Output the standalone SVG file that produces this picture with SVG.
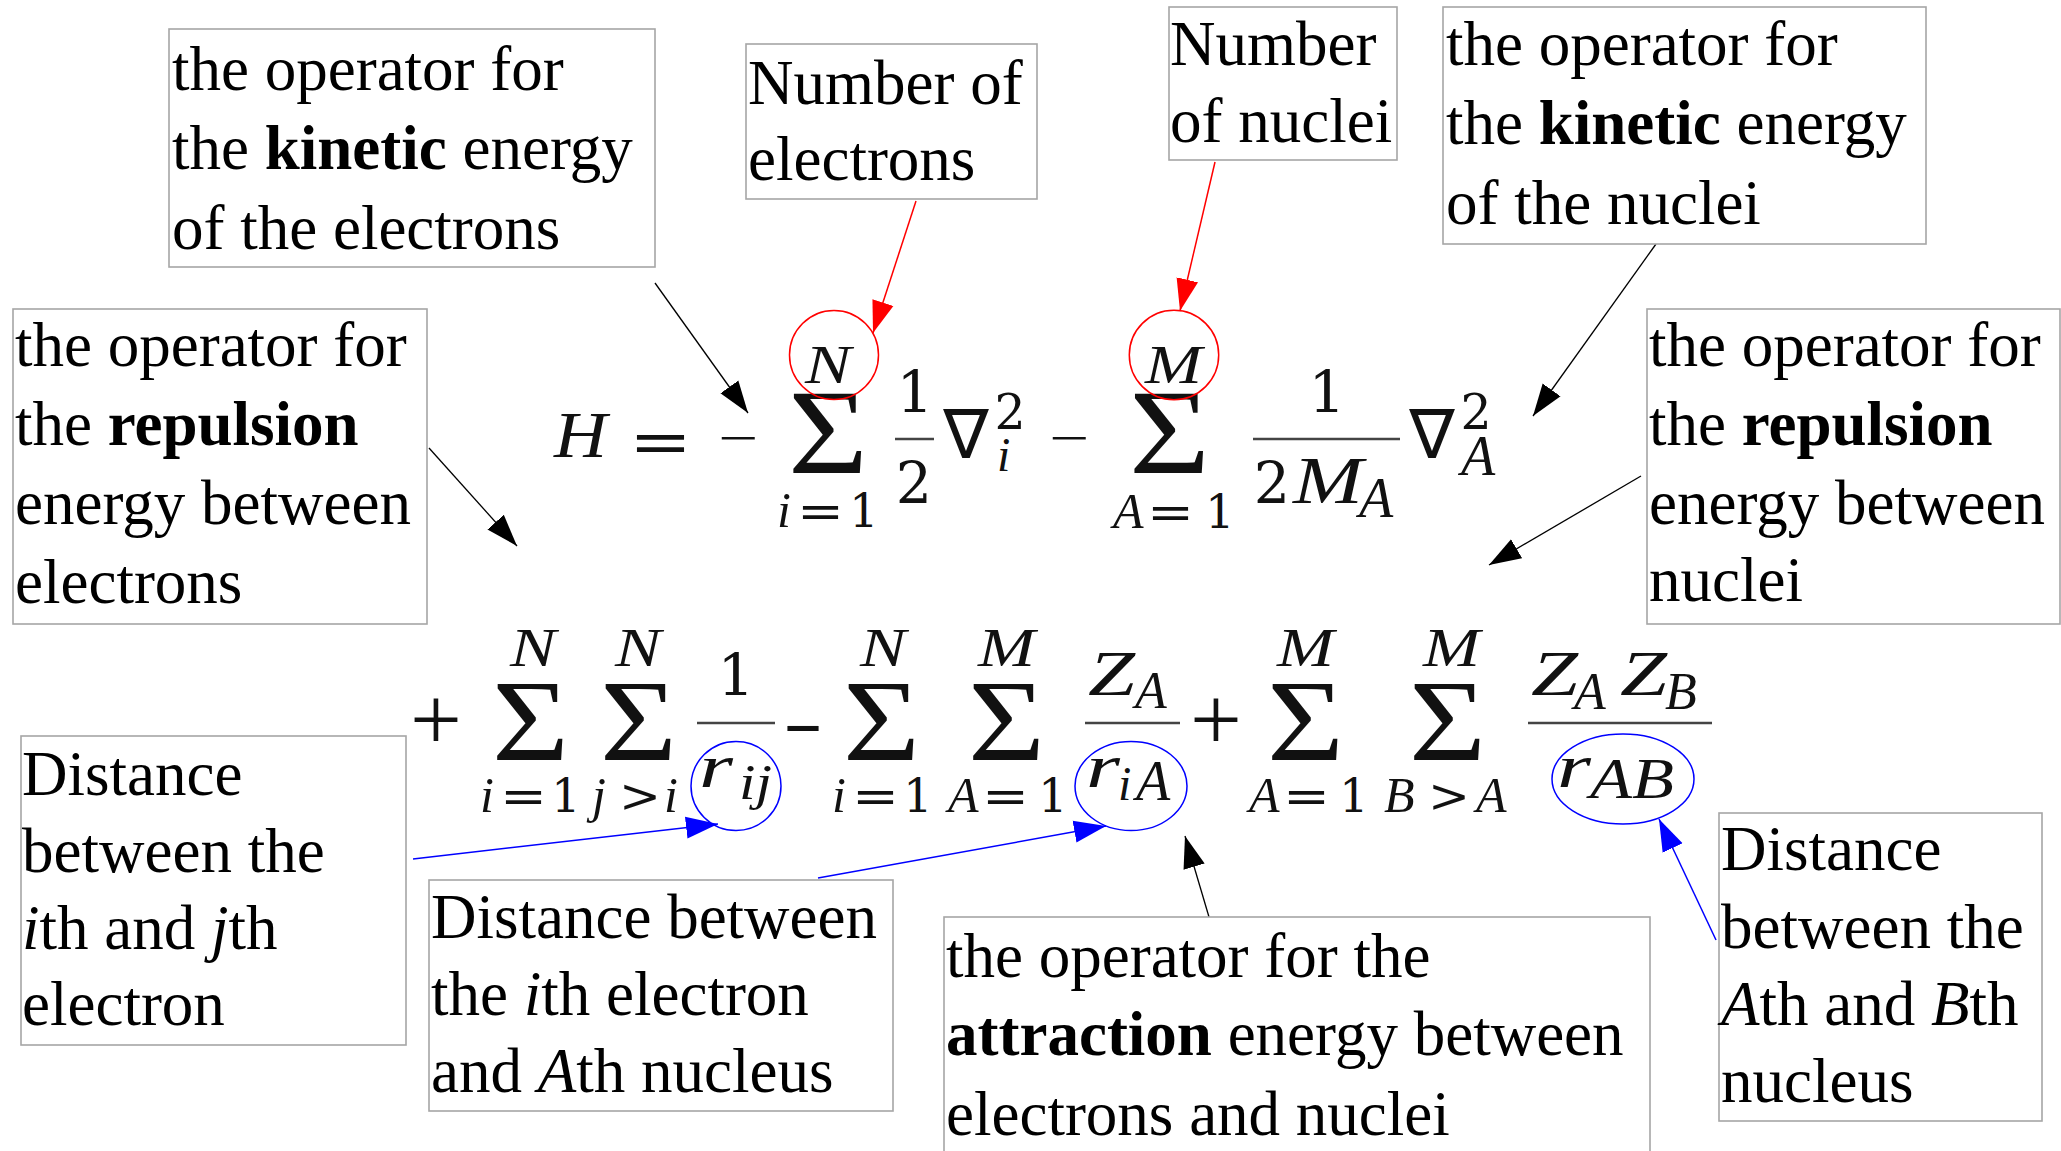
<svg xmlns="http://www.w3.org/2000/svg" width="2061" height="1151" viewBox="0 0 2061 1151">
<style>
.box{fill:#fff;stroke:#a6a6a6;stroke-width:1.6}
.t{font-family:"Liberation Serif","Times New Roman",serif;font-size:63px;fill:#000}
.b{font-weight:bold}
.i{font-style:italic}
.mi{font-family:"Liberation Serif","Times New Roman",serif;font-style:italic;fill:#111}
.mr{font-family:"Liberation Serif","Times New Roman",serif;fill:#111}
.md{font-family:"DejaVu Serif",serif;fill:#111}
.nab{font-family:"DejaVu Sans",sans-serif;fill:#111}
.bar{stroke:#444;stroke-width:2.5}
.k{stroke:#000;stroke-width:1.3;fill:none}
.rd{stroke:#f00;stroke-width:1.5;fill:none}
.bl{stroke:#00f;stroke-width:1.5;fill:none}
</style>
<defs>
<marker id="ak" viewBox="-32 -12 33 24" refX="0" refY="0" markerWidth="33" markerHeight="24" markerUnits="userSpaceOnUse" orient="auto"><path d="M0,0 L-32,-11 L-32,11 Z" fill="#000"/></marker>
<marker id="ar" viewBox="-32 -12 33 24" refX="0" refY="0" markerWidth="33" markerHeight="24" markerUnits="userSpaceOnUse" orient="auto"><path d="M0,0 L-32,-11 L-32,11 Z" fill="#f00"/></marker>
<marker id="ab" viewBox="-32 -12 33 24" refX="0" refY="0" markerWidth="33" markerHeight="24" markerUnits="userSpaceOnUse" orient="auto"><path d="M0,0 L-32,-11 L-32,11 Z" fill="#00f"/></marker>
</defs>
<rect width="2061" height="1151" fill="#fff"/>

<g id="equation">
<!-- row 1 -->
<text class="mi" x="554" y="457" font-size="65" textLength="53" lengthAdjust="spacingAndGlyphs">H</text>
<text class="md" x="629" y="463" font-size="62" textLength="63" lengthAdjust="spacingAndGlyphs">=</text>
<text class="mr" x="718" y="455" font-size="50" textLength="40" lengthAdjust="spacingAndGlyphs" fill="#777">−</text>
<text class="mr" x="788" y="473" font-size="120" textLength="80" lengthAdjust="spacingAndGlyphs">Σ</text>
<text class="mi" x="805" y="383" font-size="54" textLength="46" lengthAdjust="spacingAndGlyphs">N</text>
<text class="mi" x="777" y="527" font-size="50">i</text>
<text class="md" x="797" y="527" font-size="46" textLength="47" lengthAdjust="spacingAndGlyphs">=</text>
<text class="md" x="864" y="527" font-size="46" text-anchor="middle">1</text>
<text class="md" x="915" y="412" font-size="58" text-anchor="middle">1</text>
<line class="bar" x1="895" y1="439" x2="934" y2="439"/>
<text class="md" x="914" y="503" font-size="57" text-anchor="middle">2</text>
<text class="nab" x="966" y="458" font-size="68" text-anchor="middle">∇</text>
<text class="md" x="1010" y="429" font-size="49" text-anchor="middle">2</text>
<text class="mi" x="997" y="471" font-size="48">i</text>
<text class="mr" x="1049" y="455" font-size="50" textLength="40" lengthAdjust="spacingAndGlyphs" fill="#777">−</text>
<text class="mr" x="1129" y="473" font-size="120" textLength="81" lengthAdjust="spacingAndGlyphs">Σ</text>
<text class="mi" x="1145" y="383" font-size="54" textLength="57" lengthAdjust="spacingAndGlyphs">M</text>
<text class="mi" x="1113" y="528" font-size="50">A</text>
<text class="md" x="1147" y="528" font-size="46" textLength="47" lengthAdjust="spacingAndGlyphs">=</text>
<text class="md" x="1220" y="528" font-size="46" text-anchor="middle">1</text>
<text class="md" x="1327" y="412" font-size="58" text-anchor="middle">1</text>
<line class="bar" x1="1253" y1="439" x2="1400" y2="439"/>
<text class="md" x="1272" y="503" font-size="57" text-anchor="middle">2</text>
<text class="mi" x="1293" y="503" font-size="68" textLength="70" lengthAdjust="spacingAndGlyphs">M</text>
<text class="mi" x="1359" y="517" font-size="56">A</text>
<text class="nab" x="1432" y="458" font-size="68" text-anchor="middle">∇</text>
<text class="md" x="1476" y="429" font-size="49" text-anchor="middle">2</text>
<text class="mi" x="1461" y="475" font-size="56">A</text>

<!-- row 2 -->
<text class="mr" x="436" y="750" font-size="92" text-anchor="middle">+</text>
<text class="mr" x="492" y="760" font-size="117" textLength="77" lengthAdjust="spacingAndGlyphs">Σ</text>
<text class="mr" x="600" y="760" font-size="117" textLength="77" lengthAdjust="spacingAndGlyphs">Σ</text>
<text class="mr" x="843" y="760" font-size="117" textLength="77" lengthAdjust="spacingAndGlyphs">Σ</text>
<text class="mr" x="968" y="760" font-size="117" textLength="77" lengthAdjust="spacingAndGlyphs">Σ</text>
<text class="mr" x="1267" y="760" font-size="117" textLength="77" lengthAdjust="spacingAndGlyphs">Σ</text>
<text class="mr" x="1409" y="760" font-size="117" textLength="77" lengthAdjust="spacingAndGlyphs">Σ</text>
<text class="mi" x="510" y="666" font-size="54" textLength="46" lengthAdjust="spacingAndGlyphs">N</text>
<text class="mi" x="615" y="666" font-size="54" textLength="46" lengthAdjust="spacingAndGlyphs">N</text>
<text class="mi" x="860" y="666" font-size="54" textLength="46" lengthAdjust="spacingAndGlyphs">N</text>
<text class="mi" x="978" y="666" font-size="54" textLength="57" lengthAdjust="spacingAndGlyphs">M</text>
<text class="mi" x="1277" y="666" font-size="54" textLength="57" lengthAdjust="spacingAndGlyphs">M</text>
<text class="mi" x="1423" y="666" font-size="54" textLength="57" lengthAdjust="spacingAndGlyphs">M</text>
<!-- lower limits row 2 -->
<text class="mi" x="480" y="812" font-size="50">i</text>
<text class="md" x="500" y="812" font-size="46" textLength="47" lengthAdjust="spacingAndGlyphs">=</text>
<text class="md" x="566" y="812" font-size="46" text-anchor="middle">1</text>
<text class="mi" x="592" y="812" font-size="50">j</text>
<text class="md" x="619" y="812" font-size="46" textLength="42" lengthAdjust="spacingAndGlyphs">&gt;</text>
<text class="mi" x="664" y="812" font-size="50">i</text>
<text class="mi" x="832" y="812" font-size="50">i</text>
<text class="md" x="852" y="812" font-size="46" textLength="47" lengthAdjust="spacingAndGlyphs">=</text>
<text class="md" x="918" y="812" font-size="46" text-anchor="middle">1</text>
<text class="mi" x="948" y="812" font-size="50">A</text>
<text class="md" x="982" y="812" font-size="46" textLength="47" lengthAdjust="spacingAndGlyphs">=</text>
<text class="md" x="1053" y="812" font-size="46" text-anchor="middle">1</text>
<text class="mi" x="1249" y="812" font-size="50">A</text>
<text class="md" x="1283" y="812" font-size="46" textLength="47" lengthAdjust="spacingAndGlyphs">=</text>
<text class="md" x="1354" y="812" font-size="46" text-anchor="middle">1</text>
<text class="mi" x="1384" y="812" font-size="50">B</text>
<text class="md" x="1428" y="812" font-size="46" textLength="42" lengthAdjust="spacingAndGlyphs">&gt;</text>
<text class="mi" x="1476" y="812" font-size="50">A</text>
<!-- 1/r_ij -->
<text class="md" x="736" y="695" font-size="58" text-anchor="middle">1</text>
<line class="bar" x1="697" y1="723" x2="775" y2="723"/>
<text class="mi" x="699" y="787" font-size="62" textLength="34" lengthAdjust="spacingAndGlyphs">r</text>
<text class="mi" x="739" y="799" font-size="50" textLength="33" lengthAdjust="spacingAndGlyphs">ij</text>
<text class="mr b" x="783" y="742" font-size="60" textLength="40" lengthAdjust="spacingAndGlyphs">-</text>
<!-- Z_A / r_iA -->
<text class="mi" x="1088" y="695" font-size="63" textLength="47" lengthAdjust="spacingAndGlyphs">Z</text>
<text class="mi" x="1135" y="708" font-size="52">A</text>
<line class="bar" x1="1085" y1="723" x2="1180" y2="723"/>
<text class="mi" x="1086" y="787" font-size="62" textLength="34" lengthAdjust="spacingAndGlyphs">r</text>
<text class="mi" x="1118" y="800" font-size="48">i</text>
<text class="mi" x="1136" y="800" font-size="56">A</text>
<text class="mr" x="1216" y="750" font-size="92" text-anchor="middle">+</text>
<!-- Z_A Z_B / r_AB -->
<text class="mi" x="1531" y="695" font-size="63" textLength="47" lengthAdjust="spacingAndGlyphs">Z</text>
<text class="mi" x="1574" y="709" font-size="52">A</text>
<text class="mi" x="1620" y="695" font-size="63" textLength="47" lengthAdjust="spacingAndGlyphs">Z</text>
<text class="mi" x="1665" y="709" font-size="52">B</text>
<line class="bar" x1="1528" y1="723" x2="1712" y2="723"/>
<text class="mi" x="1557" y="787" font-size="62" textLength="34" lengthAdjust="spacingAndGlyphs">r</text>
<text class="mi" x="1590" y="798" font-size="57" textLength="84" lengthAdjust="spacingAndGlyphs">AB</text>

<circle class="rd" cx="834" cy="355" r="44.5"/>
<circle class="rd" cx="1174" cy="355" r="44.7"/>
<ellipse class="bl" cx="736" cy="786" rx="45" ry="44.5"/>
<ellipse class="bl" cx="1131" cy="786" rx="56" ry="44.5"/>
<ellipse class="bl" cx="1623" cy="779" rx="71" ry="45"/>
</g>

<g id="connectors">
<line class="k" x1="655" y1="283" x2="748" y2="413" marker-end="url(#ak)"/>
<line class="k" x1="429" y1="448" x2="517" y2="546" marker-end="url(#ak)"/>
<line class="k" x1="1656" y1="244" x2="1533" y2="416" marker-end="url(#ak)"/>
<line class="k" x1="1641" y1="476" x2="1489" y2="565" marker-end="url(#ak)"/>
<line class="k" x1="1209" y1="917" x2="1185" y2="836" marker-end="url(#ak)"/>
<line class="rd" x1="916" y1="201" x2="873" y2="333" marker-end="url(#ar)"/>
<line class="rd" x1="1215" y1="162" x2="1180" y2="311" marker-end="url(#ar)"/>
<line class="bl" x1="413" y1="859" x2="718" y2="824" marker-end="url(#ab)"/>
<line class="bl" x1="818" y1="878" x2="1106" y2="826" marker-end="url(#ab)"/>
<line class="bl" x1="1716" y1="940" x2="1659" y2="819" marker-end="url(#ab)"/>
</g>

<g id="kinetic-electrons">
<rect class="box" x="169" y="29" width="486" height="238"/>
<text class="t" x="172" y="90">the operator for</text>
<text class="t" x="172" y="169">the <tspan class="b">kinetic</tspan> energy</text>
<text class="t" x="172" y="249">of the electrons</text>
</g>
<g id="number-electrons">
<rect class="box" x="746" y="44" width="291" height="155"/>
<text class="t" x="748" y="104">Number of</text>
<text class="t" x="748" y="180">electrons</text>
</g>
<g id="number-nuclei">
<rect class="box" x="1169" y="7" width="228" height="153"/>
<text class="t" x="1170" y="65">Number</text>
<text class="t" x="1170" y="142">of nuclei</text>
</g>
<g id="kinetic-nuclei">
<rect class="box" x="1443" y="7" width="483" height="237"/>
<text class="t" x="1446" y="65">the operator for</text>
<text class="t" x="1446" y="144">the <tspan class="b">kinetic</tspan> energy</text>
<text class="t" x="1446" y="224">of the nuclei</text>
</g>
<g id="repulsion-electrons">
<rect class="box" x="13" y="309" width="414" height="315"/>
<text class="t" x="15" y="366">the operator for</text>
<text class="t" x="15" y="445">the <tspan class="b">repulsion</tspan></text>
<text class="t" x="15" y="524">energy between</text>
<text class="t" x="15" y="603">electrons</text>
</g>
<g id="repulsion-nuclei">
<rect class="box" x="1647" y="309" width="413" height="315"/>
<text class="t" x="1649" y="366">the operator for</text>
<text class="t" x="1649" y="445">the <tspan class="b">repulsion</tspan></text>
<text class="t" x="1649" y="524">energy between</text>
<text class="t" x="1649" y="601">nuclei</text>
</g>
<g id="distance-ij">
<rect class="box" x="21" y="736" width="385" height="309"/>
<text class="t" x="22" y="795">Distance</text>
<text class="t" x="22" y="872">between the</text>
<text class="t" x="22" y="949"><tspan class="i">i</tspan>th and <tspan class="i">j</tspan>th</text>
<text class="t" x="22" y="1025">electron</text>
</g>
<g id="distance-iA">
<rect class="box" x="429" y="880" width="464" height="231"/>
<text class="t" x="431" y="938">Distance between</text>
<text class="t" x="431" y="1015">the <tspan class="i">i</tspan>th electron</text>
<text class="t" x="431" y="1092">and <tspan class="i">A</tspan>th nucleus</text>
</g>
<g id="attraction">
<rect class="box" x="944" y="917" width="706" height="250"/>
<text class="t" x="946" y="977">the operator for the</text>
<text class="t" x="946" y="1055"><tspan class="b">attraction</tspan> energy between</text>
<text class="t" x="946" y="1135">electrons and nuclei</text>
</g>
<g id="distance-AB">
<rect class="box" x="1719" y="813" width="323" height="308"/>
<text class="t" x="1721" y="870">Distance</text>
<text class="t" x="1721" y="948">between the</text>
<text class="t" x="1721" y="1025"><tspan class="i">A</tspan>th and <tspan class="i">B</tspan>th</text>
<text class="t" x="1721" y="1102">nucleus</text>
</g>
</svg>
